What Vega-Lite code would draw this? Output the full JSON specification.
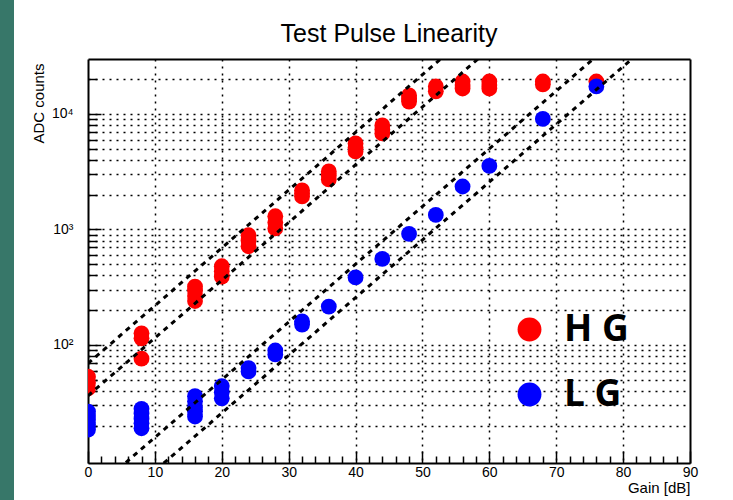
{
  "$schema": "https://vega.github.io/schema/vega-lite/v6.json",
  "width": 602,
  "height": 404,
  "autosize": "none",
  "padding": {"left": 88, "top": 59, "right": 43, "bottom": 37},
  "background": "#377769",
  "config": {
    "view": {"fill": "white", "stroke": "white", "strokeWidth": 148},
    "font": "Liberation Sans"
  },
  "title": {
    "text": "Test Pulse Linearity",
    "font": "Liberation Sans",
    "fontSize": 25,
    "fontWeight": "normal",
    "color": "black",
    "anchor": "middle",
    "baseline": "alphabetic",
    "offset": 15,
    "dy": 23
  },
  "datasets": {
    "measurements": [
      {"gain_dB": 0, "adc_counts": 53, "channel": "HG"},
      {"gain_dB": 0, "adc_counts": 47, "channel": "HG"},
      {"gain_dB": 0, "adc_counts": 42, "channel": "HG"},
      {"gain_dB": 8, "adc_counts": 126, "channel": "HG"},
      {"gain_dB": 8, "adc_counts": 114, "channel": "HG"},
      {"gain_dB": 8, "adc_counts": 76, "channel": "HG"},
      {"gain_dB": 16, "adc_counts": 320, "channel": "HG"},
      {"gain_dB": 16, "adc_counts": 295, "channel": "HG"},
      {"gain_dB": 16, "adc_counts": 265, "channel": "HG"},
      {"gain_dB": 16, "adc_counts": 240, "channel": "HG"},
      {"gain_dB": 20, "adc_counts": 480, "channel": "HG"},
      {"gain_dB": 20, "adc_counts": 435, "channel": "HG"},
      {"gain_dB": 20, "adc_counts": 390, "channel": "HG"},
      {"gain_dB": 24, "adc_counts": 890, "channel": "HG"},
      {"gain_dB": 24, "adc_counts": 800, "channel": "HG"},
      {"gain_dB": 24, "adc_counts": 715, "channel": "HG"},
      {"gain_dB": 28, "adc_counts": 1300, "channel": "HG"},
      {"gain_dB": 28, "adc_counts": 1150, "channel": "HG"},
      {"gain_dB": 28, "adc_counts": 1020, "channel": "HG"},
      {"gain_dB": 32, "adc_counts": 2180, "channel": "HG"},
      {"gain_dB": 32, "adc_counts": 2050, "channel": "HG"},
      {"gain_dB": 32, "adc_counts": 1930, "channel": "HG"},
      {"gain_dB": 36, "adc_counts": 3180, "channel": "HG"},
      {"gain_dB": 36, "adc_counts": 2930, "channel": "HG"},
      {"gain_dB": 36, "adc_counts": 2710, "channel": "HG"},
      {"gain_dB": 40, "adc_counts": 5560, "channel": "HG"},
      {"gain_dB": 40, "adc_counts": 5130, "channel": "HG"},
      {"gain_dB": 40, "adc_counts": 4740, "channel": "HG"},
      {"gain_dB": 44, "adc_counts": 7950, "channel": "HG"},
      {"gain_dB": 44, "adc_counts": 7340, "channel": "HG"},
      {"gain_dB": 44, "adc_counts": 6780, "channel": "HG"},
      {"gain_dB": 48, "adc_counts": 14500, "channel": "HG"},
      {"gain_dB": 48, "adc_counts": 13600, "channel": "HG"},
      {"gain_dB": 48, "adc_counts": 12800, "channel": "HG"},
      {"gain_dB": 52, "adc_counts": 17300, "channel": "HG"},
      {"gain_dB": 52, "adc_counts": 15700, "channel": "HG"},
      {"gain_dB": 56, "adc_counts": 19100, "channel": "HG"},
      {"gain_dB": 56, "adc_counts": 17800, "channel": "HG"},
      {"gain_dB": 56, "adc_counts": 16600, "channel": "HG"},
      {"gain_dB": 60, "adc_counts": 19100, "channel": "HG"},
      {"gain_dB": 60, "adc_counts": 17800, "channel": "HG"},
      {"gain_dB": 60, "adc_counts": 16600, "channel": "HG"},
      {"gain_dB": 68, "adc_counts": 19100, "channel": "HG"},
      {"gain_dB": 68, "adc_counts": 18000, "channel": "HG"},
      {"gain_dB": 76, "adc_counts": 19100, "channel": "HG"},
      {"gain_dB": 0, "adc_counts": 26.5, "channel": "LG"},
      {"gain_dB": 0, "adc_counts": 24.3, "channel": "LG"},
      {"gain_dB": 0, "adc_counts": 22.5, "channel": "LG"},
      {"gain_dB": 0, "adc_counts": 20.4, "channel": "LG"},
      {"gain_dB": 0, "adc_counts": 18.5, "channel": "LG"},
      {"gain_dB": 8, "adc_counts": 28, "channel": "LG"},
      {"gain_dB": 8, "adc_counts": 25.5, "channel": "LG"},
      {"gain_dB": 8, "adc_counts": 23, "channel": "LG"},
      {"gain_dB": 8, "adc_counts": 21, "channel": "LG"},
      {"gain_dB": 8, "adc_counts": 19, "channel": "LG"},
      {"gain_dB": 16, "adc_counts": 36, "channel": "LG"},
      {"gain_dB": 16, "adc_counts": 32.5, "channel": "LG"},
      {"gain_dB": 16, "adc_counts": 29, "channel": "LG"},
      {"gain_dB": 16, "adc_counts": 26.5, "channel": "LG"},
      {"gain_dB": 16, "adc_counts": 24, "channel": "LG"},
      {"gain_dB": 20, "adc_counts": 44, "channel": "LG"},
      {"gain_dB": 20, "adc_counts": 39, "channel": "LG"},
      {"gain_dB": 20, "adc_counts": 34.5, "channel": "LG"},
      {"gain_dB": 24, "adc_counts": 63, "channel": "LG"},
      {"gain_dB": 24, "adc_counts": 59, "channel": "LG"},
      {"gain_dB": 28, "adc_counts": 89.5, "channel": "LG"},
      {"gain_dB": 28, "adc_counts": 82.7, "channel": "LG"},
      {"gain_dB": 32, "adc_counts": 160, "channel": "LG"},
      {"gain_dB": 32, "adc_counts": 150, "channel": "LG"},
      {"gain_dB": 36, "adc_counts": 215, "channel": "LG"},
      {"gain_dB": 40, "adc_counts": 384, "channel": "LG"},
      {"gain_dB": 44, "adc_counts": 556, "channel": "LG"},
      {"gain_dB": 48, "adc_counts": 914, "channel": "LG"},
      {"gain_dB": 52, "adc_counts": 1336, "channel": "LG"},
      {"gain_dB": 56, "adc_counts": 2354, "channel": "LG"},
      {"gain_dB": 60, "adc_counts": 3548, "channel": "LG"},
      {"gain_dB": 68, "adc_counts": 9050, "channel": "LG"},
      {"gain_dB": 76, "adc_counts": 17300, "channel": "LG"}
    ],
    "fit_lines": [
      {"gain_dB": 0, "adc_counts": 69.2, "fit": "HG upper"},
      {"gain_dB": 90, "adc_counts": 2190000, "fit": "HG upper"},
      {"gain_dB": 0, "adc_counts": 36.3, "fit": "HG lower"},
      {"gain_dB": 90, "adc_counts": 1150000, "fit": "HG lower"},
      {"gain_dB": 0, "adc_counts": 5.0, "fit": "LG upper"},
      {"gain_dB": 90, "adc_counts": 158000, "fit": "LG upper"},
      {"gain_dB": 0, "adc_counts": 2.57, "fit": "LG lower"},
      {"gain_dB": 90, "adc_counts": 81300, "fit": "LG lower"}
    ]
  },
  "layer": [
    {
      "data": {"name": "measurements"},
      "mark": {"type": "point", "shape": "circle", "filled": true, "size": 250, "opacity": 1, "clip": true},
      "encoding": {
        "x": {
          "field": "gain_dB",
          "type": "quantitative",
          "scale": {"domain": [0, 90], "nice": false, "zero": false},
          "axis": {
            "orient": "bottom",
            "values": [0,2,4,6,8,10,12,14,16,18,20,22,24,26,28,30,32,34,36,38,40,42,44,46,48,50,52,54,56,58,60,62,64,66,68,70,72,74,76,78,80,82,84,86,88,90],
            "labelExpr": "datum.value % 10 === 0 ? datum.label : ''",
            "tickSize": {"condition": {"test": "datum.value % 10 === 0", "value": -12}, "value": -7},
            "tickColor": "black",
            "tickWidth": 1.5,
            "grid": true,
            "gridColor": "black",
            "gridDash": [2, 5],
            "gridWidth": 1.5,
            "gridOpacity": {"condition": {"test": "datum.value % 10 === 0 && datum.value > 0 && datum.value < 90", "value": 1}, "value": 0},
            "domainColor": "black",
            "domainWidth": 2,
            "labelFont": "Liberation Sans",
            "labelFontSize": 14,
            "labelColor": "black",
            "labelPadding": 14,
            "labelFlush": false,
            "labelOverlap": false,
            "title": "Gain [dB]",
            "titleFont": "Liberation Sans",
            "titleFontSize": 15,
            "titleFontWeight": "normal",
            "titleColor": "black",
            "titleAlign": "right",
            "titleBaseline": "top",
            "titleX": 602,
            "titleY": 17
          }
        },
        "y": {
          "field": "adc_counts",
          "type": "quantitative",
          "scale": {"type": "log", "domain": [9.5, 29900], "nice": false},
          "axis": {
            "orient": "left",
            "values": [20,30,40,50,60,70,80,90,100,200,300,400,500,600,700,800,900,1000,2000,3000,4000,5000,6000,7000,8000,9000,10000,20000],
            "labelExpr": "datum.value === 100 ? '10²' : datum.value === 1000 ? '10³' : datum.value === 10000 ? '10⁴' : ''",
            "tickSize": {"condition": {"test": "datum.value === 100 || datum.value === 1000 || datum.value === 10000", "value": -13}, "value": -9},
            "tickColor": "black",
            "tickWidth": 1.5,
            "grid": true,
            "gridColor": "black",
            "gridDash": [2, 5],
            "gridWidth": 1.5,
            "domainColor": "black",
            "domainWidth": 2,
            "labelFont": "Liberation Sans",
            "labelFontSize": 14,
            "labelColor": "black",
            "labelPadding": 28,
            "labelOverlap": false,
            "labelFlush": false,
            "title": "ADC counts",
            "titleFont": "Liberation Sans",
            "titleFontSize": 15,
            "titleFontWeight": "normal",
            "titleColor": "black",
            "titleAngle": 270,
            "titleAlign": "right",
            "titleBaseline": "middle",
            "titleX": -50,
            "titleY": 4
          }
        },
        "color": {
          "field": "channel",
          "type": "nominal",
          "scale": {"domain": ["HG", "LG"], "range": ["#ff0000", "#0000ff"]},
          "legend": {
            "orient": "none",
            "legendX": 423,
            "legendY": 252,
            "title": null,
            "padding": 0,
            "symbolType": "circle",
            "symbolSize": 570,
            "symbolStrokeWidth": 0,
            "labelFont": "Open Sans",
            "labelFontSize": 37,
            "labelFontWeight": "bold",
            "labelColor": "black",
            "labelOffset": 16,
            "rowPadding": 27,
            "labelExpr": "datum.label === 'HG' ? 'H G' : 'L G'",
            "encode": {
              "symbols": {
                "update": {
                  "fill": {"signal": "datum.value === 'HG' ? '#ff0000' : '#0000c8'"},
                  "opacity": {"value": 1}
                }
              }
            }
          }
        }
      }
    },
    {
      "data": {"name": "fit_lines"},
      "mark": {"type": "line", "color": "black", "strokeWidth": 3, "strokeDash": [5, 5], "clip": true},
      "encoding": {
        "x": {
          "field": "gain_dB",
          "type": "quantitative",
          "scale": {"domain": [0, 90], "nice": false, "zero": false},
          "axis": {"orient": "top", "ticks": false, "labels": false, "grid": false, "title": null, "domainColor": "black", "domainWidth": 2}
        },
        "y": {
          "field": "adc_counts",
          "type": "quantitative",
          "scale": {"type": "log", "domain": [9.5, 29900], "nice": false},
          "axis": {"orient": "right", "ticks": false, "labels": false, "grid": false, "title": null, "domainColor": "black", "domainWidth": 2}
        },
        "detail": {"field": "fit", "type": "nominal"}
      }
    }
  ],
  "resolve": {"axis": {"x": "independent", "y": "independent"}}
}
